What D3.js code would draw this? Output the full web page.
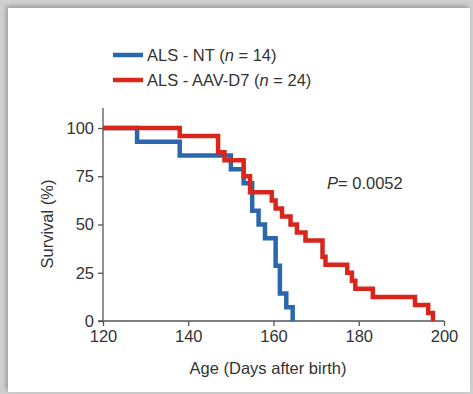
<!DOCTYPE html>
<html>
<head>
<meta charset="utf-8">
<script src="https://cdn.jsdelivr.net/npm/d3@7"></script>
<style>
  html, body { margin: 0; padding: 0; }
  body { width: 473px; height: 394px; background: #cfcfcf; position: relative; overflow: hidden; }
  #panel { position: absolute; left: 8px; top: 8px; width: 462px; height: 384px; background: #fff;
           box-shadow: -2px -2px 4px rgba(0,0,0,0.25); }
  svg { position: absolute; left: 0; top: 0; }
  text { font-family: "Liberation Sans", Arial, sans-serif; fill: #333; }
</style>
</head>
<body>
<div id="panel"></div>
<script>
// Kaplan-Meier data (day of drop, survival % after the drop)
var ntDays = [120, 128, 138, 150, 153, 155, 156.5, 158, 160.5, 161.5, 163, 164.5];
var ntSurv = [100, 92.86, 85.71, 78.57, 71.43, 57.14, 50, 42.86, 28.57, 14.29, 7.14, 0];
var d7Days = [120, 138, 147, 148.5, 153, 154.5, 159.6, 160.5, 162, 164, 165.5, 167.5, 171.5, 172.2, 177.3, 178.4, 179.2, 183.3, 193.2, 196.3, 197.4];
var d7Surv = [100, 95.83, 87.5, 83.33, 75, 66.67, 62.5, 58.33, 54.17, 50, 45.83, 41.67, 33.33, 29.17, 25, 20.83, 16.67, 12.5, 8.33, 4.17, 0];
var xTicks = [120, 140, 160, 180, 200];
var yTicks = [0, 25, 50, 75, 100];
var seriesNames = ["ALS - NT", "ALS - AAV-D7"];
var seriesN = [14, 24];
var colors = ["#2b67ad", "#d8261d"];

var width = 473, height = 394;
var fs = 16.5; // 字号
var svg = d3.select("body").append("svg").attr("width", width).attr("height", height);

var x = d3.scaleLinear().domain([120, 200]).range([103, 444]);
var y = d3.scaleLinear().domain([0, 100]).range([321, 128]);

// 坐标轴
var xAxis = svg.append("g")
    .attr("transform", "translate(0," + y(0) + ")")
    .call(d3.axisBottom(x).tickValues(xTicks).tickSize(5).tickPadding(4));
var yAxis = svg.append("g")
    .attr("transform", "translate(" + x(120) + ",0)")
    .call(d3.axisLeft(y).tickValues(yTicks).tickSize(5).tickPadding(4));

[xAxis, yAxis].forEach(function (a) {
    a.select(".domain").remove();
    a.selectAll("line").attr("stroke", "#555").attr("stroke-width", 1.3);
    a.selectAll("text").attr("font-size", fs).style("fill", "#333")
        .style("font-family", "Liberation Sans, Arial, sans-serif");
});
// axis lines
svg.append("line").attr("x1", x(120) - 5).attr("x2", x(200)).attr("y1", y(0)).attr("y2", y(0))
    .attr("stroke", "#555").attr("stroke-width", 1.3);
svg.append("line").attr("x1", x(120)).attr("x2", x(120)).attr("y1", 108).attr("y2", y(0))
    .attr("stroke", "#555").attr("stroke-width", 1.3);

// step curves
var line = d3.line().x(d => x(d[0])).y(d => y(d[1])).curve(d3.curveStepAfter);
function stepData(days, surv) {
    return days.map((d, i) => [d, surv[i]]);
}
svg.append("path").datum(stepData(ntDays, ntSurv))
    .attr("d", line).attr("fill", "none").attr("stroke", colors[0]).attr("stroke-width", 4.5);
svg.append("path").datum(stepData(d7Days, d7Surv))
    .attr("d", line).attr("fill", "none").attr("stroke", colors[1]).attr("stroke-width", 4.5);

// legend
var legend = svg.append("g");
seriesNames.forEach(function (name, i) {
    var ly = 55 + i * 25;
    legend.append("line").attr("x1", 113).attr("x2", 143).attr("y1", ly).attr("y2", ly)
        .attr("stroke", colors[i]).attr("stroke-width", 4.5);
    var t = legend.append("text").attr("x", 147).attr("y", ly + 6).attr("font-size", fs);
    t.append("tspan").text(name + " (");
    t.append("tspan").attr("font-style", "italic").text("n");
    t.append("tspan").text(" = " + seriesN[i] + ")");
});

// P value
var p = svg.append("text").attr("x", 327).attr("y", 189).attr("font-size", fs);
p.append("tspan").attr("font-style", "italic").text("P");
p.append("tspan").text("= 0.0052");

// axis titles
svg.append("text").attr("x", 268).attr("y", 374).attr("text-anchor", "middle")
    .attr("font-size", fs).text("Age (Days after birth)");
svg.append("text").attr("transform", "translate(53,224) rotate(-90)").attr("text-anchor", "middle")
    .attr("font-size", fs).text("Survival (%)");
</script>
</body>
</html>
